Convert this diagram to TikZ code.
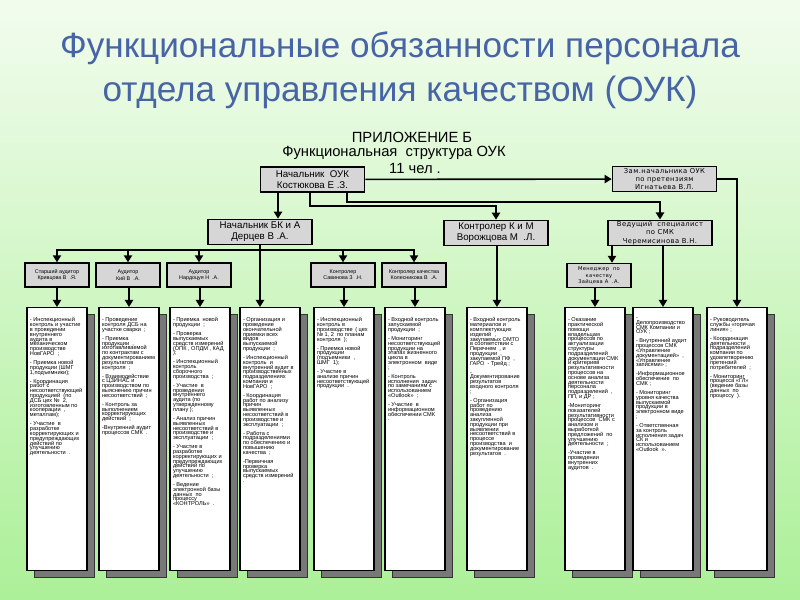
\documentclass[tikz,border=0pt]{standalone}
\usepackage{fontspec}
\setmainfont{Liberation Sans}
\newfontfamily\widefont[LetterSpace=6]{DejaVu Sans}
\usetikzlibrary{arrows.meta,positioning,calc,shadows}

\definecolor{bgtop}{RGB}{242,252,238}
\definecolor{bgbottom}{RGB}{172,240,152}
\definecolor{titleblue}{RGB}{70,100,166}
\definecolor{boxgray}{RGB}{214,214,214}
\definecolor{shadowgray}{RGB}{120,120,120}

\newcommand{\duties}[1]{\parbox[t][7.29cm][t]{1.62cm}{\raggedright\rightskip=0.1cm plus 1fil
    \fontsize{4.8}{4.1}\selectfont\lineskiplimit=-10pt\setlength{\parskip}{3.6pt}#1}}

\tikzset{
    headline/.style = {
        text=titleblue, 
        font=\fontsize{30}{36}\selectfont
    },
    subhead/.style = {
        inner sep=0pt, 
        font=\fontsize{12.6}{15}\selectfont
    },
    chief/.style = {
        draw, 
        fill=boxgray, 
        rectangle, 
        line width=1.4pt,
        align=center,
        inner sep=1pt,
        minimum height=0.75cm, 
        minimum width=3.12cm,
        font=\fontsize{8.3}{9.3}\selectfont
    },
    chiefsmall/.style = {
        chief, 
        font=\widefont\fontsize{5.8}{7}\selectfont
    },
    staff/.style = {
        draw, 
        fill=boxgray, 
        rectangle, 
        line width=1.2pt,
        align=center,
        inner sep=1pt,
        minimum height=0.72cm, 
        minimum width=1.92cm,
        font=\fontsize{4.6}{5.4}\selectfont
    },
    duty/.style = {
        draw, 
        fill=white, 
        rectangle, 
        line width=1.2pt,
        anchor=north,
        inner xsep=0.09cm,
        inner ysep=0.3cm,
        drop shadow={shadow xshift=0.21cm, shadow yshift=-0.21cm, fill=shadowgray, draw=black!80, line width=0.5pt, opacity=1}
    },
    link/.style = {
        line width=1.4pt
    }
}

\begin{document}
\begin{tikzpicture}[x=0.03cm, y=-0.03cm, >={Triangle[length=6pt,width=7pt]}]
    % background
    \shade [top color=bgtop, bottom color=bgbottom] (0,0) rectangle (800,600);
    \useasboundingbox (0,0) rectangle (800,600);

    % nodes
    \node [headline] (head1) at (400,48) {Функциональные обязанности персонала};
    \node [headline] (head2) at (400,92) {отдела управления качеством (ОУК)};
    \node [subhead] (annex) at (412,137) {ПРИЛОЖЕНИЕ Б};
    \node [subhead] (struct) at (394,153) {Функциональная\ \ структура ОУК};
    \node [subhead] (count) at (415,168) {11 чел .};

    \node [chief] (boss) at (312.5,179.5) {Начальник\ \ ОУК\\Костюкова Е .З.};
    \node [chiefsmall] (deputy) at (664.5,179) {Зам.начальника ОУК\\по претензиям\\Игнатьева В.Л.};
    \node [chief] (bk) at (260,232) {Начальник БК и А\\Дерцев В .А.};
    \node [chief] (kim) at (496,233) {Контролер К и М\\Ворожцова М\ \ .Л.};
    \node [chiefsmall] (lead) at (660,233) {Ведущий\ \ специалист\\по СМК\\Черемисинова В.Н.};

    \node [staff] (senior) at (57,275) {Старший аудитор\\Кривцова В\ \ .Я.};
    \node [staff] (audit1) at (128,275) {Аудитор\\Кий В\ \ .А.};
    \node [staff] (audit2) at (199,275) {Аудитор\\Нардоцуя Н\ \ .А.};
    \node [staff] (insp1) at (343,275) {Контролер\\Савинова З\ \ .Н.};
    \node [staff] (insp2) at (414,275) {Контролер качества\\Колесникова В\ \ .А.};
    \node [staff, font=\widefont\fontsize{4.4}{5.6}\selectfont] (manager) at (599,275.5) {Менеджер\ \ по\\качеству\\Зайцева А\ \ .А.};

    \node [duty] (d1) at (57,307) {\duties{%
        - Инспекционный контроль и участие в проведении внутреннего аудита в механическом производстве НовГАРО\ \ ;\par
        - Приемка новой продукции (ШМГ\ \ 1,подъемники);\par
        - Координация работ с несоответствующей продукцией\ \ (по ДСБ цех №\ \ 2, изготовленным по кооперации\ \ , металлам);\par
        - Участие\ \ в разработке корректирующих и предупреждающих действий по улучшению деятельности\ \ .}};
    \node [duty] (d2) at (129,307) {\duties{%
        - Проведение контроля ДСБ на участке сварки\ \ ;\par
        - Приемка продукции\ \ , изготавливаемой по контрактам с документированием результатов контроля\ \ ;\par
        - Взаимодействие с ЦЗИНАС и производством по выяснению причин несоответствий\ \ ;\par
        - Контроль за выполнением корректирующих действий\ \ ;\par
        -Внутренний аудит процессов СМК\ \ .}};
    \node [duty] (d3) at (200,307) {\duties{%
        - Приемка\ \ новой продукции\ \ ;\par
        - Проверка выпускаемых средств измерений (ОПК\ , ОПДМ\ , КАД\ );\par
        - Инспекционный контроль сборочного производства\ \ ;\par
        - Участие\ \ в проведении внутреннего аудита (по утвержденному плану );\par
        - Анализ причин выявленных несоответствий в производстве и эксплуатации\ \ ;\par
        - Участие в разработке корректирующих и предупреждающих действий по улучшению деятельности\ \ ;\par
        - Ведение электронной базы данных\ \ по процессу «КОНТРОЛЬ»\ \ .}};
    \node [duty] (d4) at (270,307) {\duties{%
        - Организация и проведение окончательной приемки всех видов выпускаемой продукции\ \ ;\par
        - Инспекционный контроль\ \ и внутренний аудит в производственных подразделениях компании и НовГАРО\ \ ;\par
        - Координация работ по анализу причин выявленных несоответствий в производстве и эксплуатации\ \ ;\par
        - Работа с подразделениями по обеспечению и повышению качества\ \ ;\par
        -Первичная проверка выпускаемых средств измерений\ \ .}};
    \node [duty] (d5) at (344,307) {\duties{%
        - Инспекционный контроль в производстве\ \ ( цех №\ 1, 2\ \ по планам контроля\ \ );\par
        - Приемка новой продукции (подъемники\ \ , ШМГ\ \ 1);\par
        - Участие в анализе причин несоответствующей продукции\ \ .}};
    \node [duty] (d6) at (415,307) {\duties{%
        - Входной контроль запускаемой продукции\ \ ;\par
        - Мониторинг несоответствующей продукции на этапах жизненного\ \ цикла в электронном\ \ виде\ \ ;\par
        - Контроль исполнения\ \ задач по замечаниям с использованием «Outlook»\ \ ;\par
        - Участие\ \ в информационном обеспечении СМК\ \ .}};
    \node [duty] (d7) at (497,307) {\duties{%
        - Входной контроль материалов и комплектующих изделий\ \ , закупаемых ОМТО в соответствии с Перечнем\ \ , и продукции\ \ , закупаемой ПФ\ \ , ГАРО\ \ - Трейд ;\par
        - Документирование результатов входного контроля\ \ ;\par
        - Организация работ по проведению анализа закупленной продукции при выявлении несоответствий в процессе производства\ \ и документирование результатов\ \ .}};
    \node [duty] (d8) at (595,307) {\duties{%
        - Оказание практической помощи владельцам процессов по актуализации структуры подразделений документации СМК\ \ и критериев результативности процессов на основе анализа деятельности персонала подразделений\ \ , ПП, и ДР ;\par
        -Мониторинг показателей результативности процессов\ \ СМК с анализом и выработкой предложений\ \ по улучшению деятельности\ \ ;\par
        -Участие в проведении внутренних аудитов\ \ .}};
    \node [duty] (d9) at (663,307) {\duties{%
        -Делопроизводство СМК Компании и ОУК ;\par
        - Внутренний аудит процессов СМК «Управление документацией»\ \ , «Управление записями» ;\par
        -Информационное обеспечение\ \ по СМК ;\par
        - Мониторинг уровня качества выпускаемой продукции в электронном виде\ \ ;\par
        - Ответственная\ \ за контроль исполнения задач СК и использованием «Outlook\ \ ».}};
    \node [duty] (d10) at (737,307) {\duties{%
        - Руководитель службы «горячая линия» ;\par
        - Координация деятельности подразделений компании по удовлетворению претензий потребителей\ \ ;\par
        - Мониторинг процесса «ГЛ» (ведение базы данных\ \ по процессу\ \ ).}};

    \coordinate (bkdrop) at (278,205);
    \coordinate (kimbend) at (310,206);
    \coordinate (leadbend) at (347,202);
    \coordinate (bus) at (260,250);

    % arrows
    \draw [link,->] (boss) -- (deputy);
    \draw [link,->] (boss.south -| bkdrop) -- (bk.north -| bkdrop);
    \draw [link,->] (boss.south -| kimbend) -- (kimbend) -| (kim);
    \draw [link,->] (boss.south -| leadbend) -- (leadbend) -| (lead);
    \draw [link,->] (deputy) -| (d10);
    \foreach \n in {senior,audit1,audit2,insp1,insp2}
        \draw [link,->] (bus) -| (\n);
    \draw [link,->] (bk.south) -- (bk.south |- d4.north);
    \foreach \s/\d in {senior/d1,audit1/d2,audit2/d3,insp1/d5,insp2/d6,kim/d7,lead/d9}
        \draw [link,->] (\s.south -| \d) -- (\d);
    \draw [link,->] ($(lead.south)+(-48,0)$) -- ($(manager.north)+(13,0)$);
    \draw [link,->] (manager.south -| d8) -- (d8);
\end{tikzpicture}
\end{document}
